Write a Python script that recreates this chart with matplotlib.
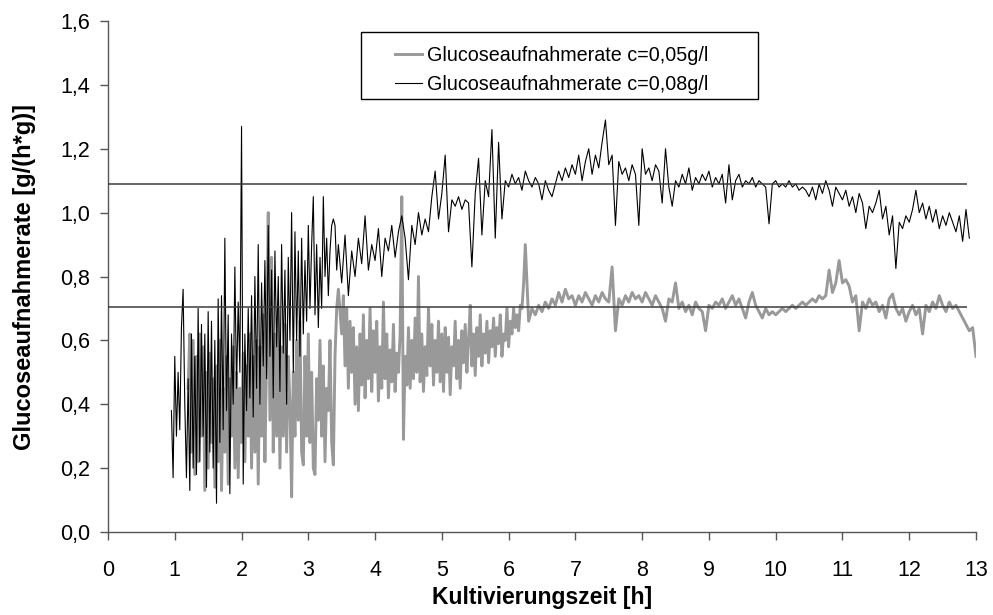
import numpy as np
import matplotlib
matplotlib.use("Agg")
import matplotlib.pyplot as plt
from matplotlib.patches import Rectangle
from matplotlib.ticker import FuncFormatter

plt.rcParams["font.family"] = ["Liberation Sans", "DejaVu Sans"]

# --------------------------------
# Data
# --------------------------------
# c = 0,08 g/l (black), early dense part 0.95 h .. 3.425 h
black_early = [
    0.38, 0.17, 0.55, 0.30, 0.50, 0.32, 0.64, 0.76, 0.40, 0.17,
    0.48, 0.13, 0.62, 0.20, 0.55, 0.18, 0.70, 0.22, 0.65, 0.30,
    0.62, 0.14, 0.69, 0.25, 0.66, 0.20, 0.60, 0.09, 0.73, 0.28,
    0.74, 0.32, 0.92, 0.38, 0.68, 0.12, 0.62, 0.40, 0.83, 0.45,
    0.72, 0.50, 1.27, 0.15, 0.62, 0.38, 0.70, 0.42, 0.74, 0.36,
    0.80, 0.45, 0.90, 0.40, 0.78, 0.52, 0.85, 0.48, 0.96, 0.55,
    0.82, 0.42, 0.88, 0.58, 0.80, 0.44, 0.90, 0.56, 0.82, 0.40,
    0.86, 0.60, 1.00, 0.50, 0.94, 0.60, 0.88, 0.55, 0.92, 0.62,
    0.85, 0.66, 0.96, 0.70, 0.90, 1.05, 0.68, 0.90, 0.64, 0.86,
    0.70, 1.05, 0.80, 0.92, 0.74, 0.88, 0.96, 0.98, 0.96, 0.82,
]
# later part 3.45 h .. 12.9 h
black_late = [
    0.90, 0.78, 0.93, 0.74, 0.88, 0.80, 0.92, 0.84, 0.99, 0.82,
    0.90, 0.85, 0.95, 0.80, 0.92, 0.88, 0.96, 0.86, 0.94, 0.99,
    0.92, 0.79, 0.96, 0.90, 1.00, 0.93, 0.98, 0.94, 1.05, 1.13,
    0.98, 1.06, 1.18, 0.94, 1.04, 1.02, 1.05, 1.01, 1.04, 1.03,
    0.83, 1.06, 1.17, 0.93, 1.10, 1.05, 1.26, 0.92, 1.22, 0.98,
    1.10, 1.08, 1.12, 1.09, 1.11, 1.07, 1.13, 1.10, 1.08, 1.11,
    1.09, 1.04, 1.10, 1.07, 1.05, 1.09, 1.13, 1.10, 1.14, 1.11,
    1.15, 1.12, 1.18, 1.10, 1.16, 1.20, 1.12, 1.18, 1.14, 1.22,
    1.29, 1.15, 1.18, 0.96, 1.16, 1.12, 1.14, 1.10, 1.15, 1.12,
    0.96, 1.20, 1.12, 1.14, 1.10, 1.15, 1.13, 1.03, 1.20, 1.08,
    1.02, 1.10, 1.08, 1.12, 1.09, 1.14, 1.07, 1.11, 1.09, 1.12,
    1.10, 1.13, 1.08, 1.11, 1.09, 1.12, 1.03, 1.15, 1.04, 1.10,
    1.12, 1.08, 1.10, 1.09, 1.11, 1.08, 1.10, 1.09, 1.08, 0.965,
    1.09, 1.10, 1.08, 1.09, 1.08, 1.10, 1.08, 1.09, 1.07, 1.08,
    1.07, 1.05, 1.08, 1.04, 1.09, 1.06, 1.10, 1.07, 1.02, 1.08,
    1.06, 1.04, 1.07, 1.02, 1.05, 1.00, 1.06, 1.03, 0.95, 1.02,
    1.00, 1.03, 1.07, 0.98, 1.02, 0.93, 0.99, 0.825, 0.97, 0.95,
    0.99, 0.97, 1.01, 1.07, 1.00, 1.03, 0.98, 1.02, 0.97, 1.01,
    0.95, 0.99, 0.96, 1.00, 0.97, 0.94, 0.99, 0.91, 1.01, 0.92,
]

# c = 0,05 g/l (grey), early dense part 1.2 h .. 3.45 h
grey_early = [
    0.45, 0.62, 0.25, 0.60, 0.18, 0.55, 0.22, 0.62, 0.30, 0.58,
    0.13, 0.50, 0.20, 0.56, 0.28, 0.48, 0.14, 0.52, 0.22, 0.60,
    0.13, 0.45, 0.25, 0.55, 0.15, 0.48, 0.30, 0.58, 0.20, 0.50,
    0.17, 0.45, 0.28, 0.56, 0.22, 0.52, 0.30, 0.62, 0.20, 0.55,
    0.25, 0.60, 0.15, 0.58, 0.30, 0.68, 0.22, 0.55, 1.00, 0.35,
    0.86, 0.25, 0.62, 0.30, 0.70, 0.20, 0.58, 0.30, 0.65, 0.25,
    0.55, 0.40, 0.11, 0.50, 0.30, 0.60, 0.35, 0.66, 0.25, 0.21,
    0.55, 0.30, 0.62, 0.28, 0.50, 0.20, 0.18, 0.48, 0.35, 0.60,
    0.30, 0.52, 0.22, 0.45, 0.38, 0.60, 0.28, 0.21, 0.55, 0.70,
    0.76,
]
# middle part 3.5 h .. 6.25 h (dense band)
grey_mid = [
    0.62, 0.74, 0.52, 0.70, 0.45, 0.66, 0.50, 0.64, 0.40, 0.58,
    0.38, 0.62, 0.46, 0.68, 0.42, 0.60, 0.48, 0.70, 0.44, 0.63,
    0.50, 0.66, 0.41, 0.58, 0.45, 0.72, 0.48, 0.62, 0.42, 0.57,
    0.47, 0.65, 0.44, 0.56, 0.50, 0.62, 1.05, 0.29, 0.55, 0.46,
    0.64, 0.45, 0.60, 0.48, 0.67, 0.50, 0.80, 0.47, 0.62, 0.44,
    0.58, 0.49, 0.70, 0.52, 0.65, 0.46, 0.60, 0.50, 0.66, 0.47,
    0.62, 0.44, 0.64, 0.50, 0.61, 0.43, 0.58, 0.52, 0.66, 0.48,
    0.60, 0.45, 0.63, 0.53, 0.65, 0.50, 0.60, 0.71, 0.52, 0.62,
    0.49, 0.64, 0.55, 0.68, 0.52, 0.62, 0.56, 0.66, 0.53, 0.63,
    0.58, 0.67, 0.55, 0.64, 0.59, 0.68, 0.55, 0.62, 0.60, 0.70,
    0.58, 0.66, 0.62, 0.70, 0.64, 0.68, 0.63, 0.71, 0.70, 0.78,
    0.90,
]
# later part 6.3 h .. 13.0 h
grey_late = [
    0.66, 0.70, 0.68, 0.71,
    0.69, 0.72, 0.70, 0.73, 0.71, 0.75, 0.72, 0.76, 0.73, 0.74,
    0.71, 0.74, 0.72, 0.75, 0.73, 0.71, 0.74, 0.72, 0.75, 0.73,
    0.72, 0.83, 0.63, 0.73, 0.71, 0.74, 0.72, 0.75, 0.73, 0.74,
    0.72, 0.75, 0.73, 0.71, 0.74, 0.72, 0.70, 0.66, 0.73, 0.72,
    0.78, 0.70, 0.72, 0.69, 0.71, 0.68, 0.72, 0.70, 0.69, 0.63,
    0.71, 0.70, 0.72, 0.71, 0.73, 0.70, 0.72, 0.74, 0.71, 0.73,
    0.70, 0.67, 0.72, 0.75, 0.71, 0.69, 0.67, 0.70, 0.68, 0.69,
    0.68, 0.69, 0.70, 0.69, 0.70, 0.71, 0.70, 0.71, 0.72, 0.71,
    0.72, 0.73, 0.72, 0.74, 0.73, 0.74, 0.82, 0.75, 0.78, 0.85,
    0.78, 0.79, 0.77, 0.72, 0.74, 0.63, 0.72, 0.70, 0.73, 0.71,
    0.72, 0.69, 0.71, 0.67, 0.73, 0.745, 0.70, 0.68, 0.70, 0.66,
    0.69, 0.71, 0.68, 0.70, 0.62, 0.71, 0.69, 0.72, 0.70, 0.74,
    0.71, 0.69, 0.72, 0.70, 0.71, 0.69, 0.67, 0.65, 0.63, 0.64,
    0.55,
]

# mean levels (horizontal reference lines)
mean_levels = [1.09, 0.705]
mean_end = 12.87

labels = ["Glucoseaufnahmerate c=0,05g/l", "Glucoseaufnahmerate c=0,08g/l"]

# time axes
t_black = np.concatenate([np.linspace(0.95, 3.425, len(black_early)),
                          np.linspace(3.45, 12.9, len(black_late))])
y_black = np.array(black_early + black_late)
t_grey = np.concatenate([np.linspace(1.2, 3.45, len(grey_early)),
                         np.linspace(3.5, 6.25, len(grey_mid)),
                         np.linspace(6.3, 13.0, len(grey_late))])
y_grey = np.array(grey_early + grey_mid + grey_late)

# --------------------------------
# Plot
# --------------------------------
fig = plt.figure(figsize=(9.93, 6.15), dpi=100)
ax = fig.add_axes([108 / 993, 83 / 615, 868 / 993, 511 / 615])

ax.plot(t_grey, y_grey, color="#999999", lw=2.1, label=labels[0], zorder=2)
ax.plot(t_black, y_black, color="black", lw=0.8, label=labels[1], zorder=3)
ax.hlines(mean_levels, 0, mean_end, color="#3c3c3c", lw=1.1, zorder=4)

ax.set_xlim(0, 13)
ax.set_ylim(0, 1.6)
ax.set_xticks(np.arange(0, 14, 1))
ax.set_yticks(np.arange(0, 1.61, 0.2))
ax.yaxis.set_major_formatter(FuncFormatter(lambda v, p: f"{v:.1f}".replace(".", ",")))

for s in ["top", "right"]:
    ax.spines[s].set_visible(False)
for s in ["left", "bottom"]:
    ax.spines[s].set_color("#555555")
    ax.spines[s].set_linewidth(1.0)
ax.tick_params(direction="out", length=6, width=1.0, color="#555555",
               labelsize=15.5)
ax.tick_params(axis="x", pad=14)
ax.tick_params(axis="y", pad=7)

ax.set_xlabel("Kultivierungszeit [h]", fontsize=16.5, fontweight="bold")
ax.xaxis.set_label_coords(0.5, -0.106)
ax.set_ylabel("Glucoseaufnahmerate [g/(h*g)]", fontsize=17, fontweight="bold")
ax.yaxis.set_label_coords(-0.083, 0.5)

# legend box drawn as plain rectangle
ax.add_patch(Rectangle((0.2915, 0.847), 0.4575, 0.1315, transform=ax.transAxes,
                       facecolor="white", edgecolor="black", lw=1.0, zorder=5,
                       clip_on=False))
leg = ax.legend(loc="upper left", bbox_to_anchor=(0.3306, 0.952), frameon=False,
                fontsize=14.2, handlelength=1.35, handletextpad=0.25,
                labelspacing=0.55, borderaxespad=0, borderpad=0)
leg.set_zorder(6)

fig.savefig("out.png", dpi=100)
